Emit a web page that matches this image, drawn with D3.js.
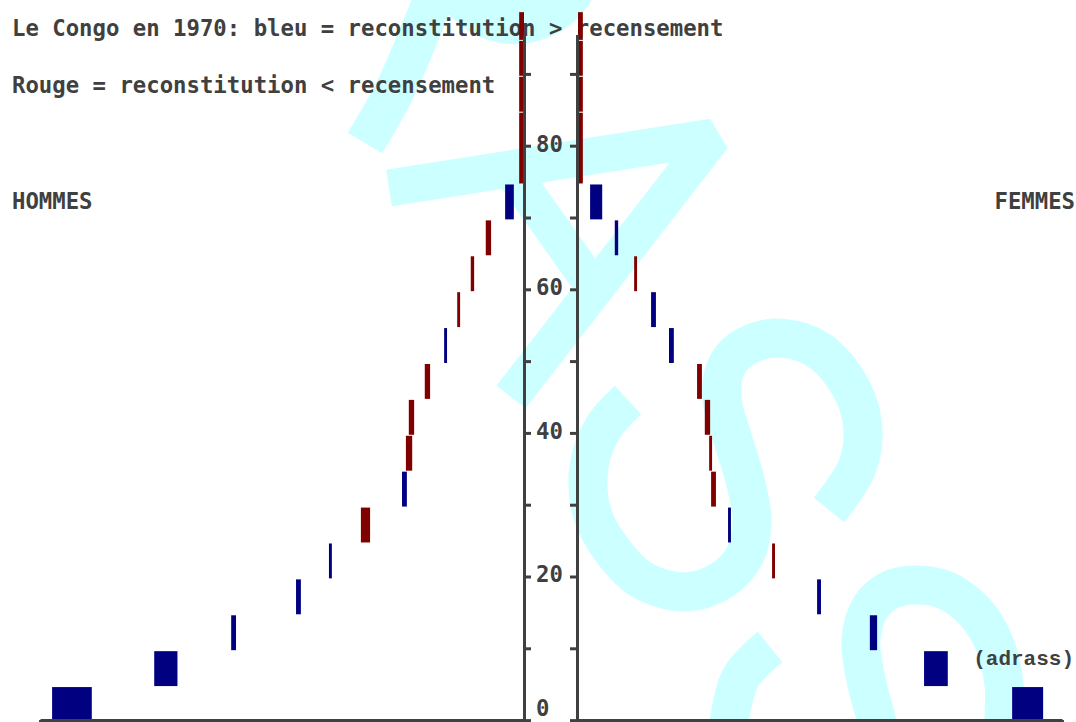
<!DOCTYPE html>
<html>
<head>
<meta charset="utf-8">
<script src="https://cdn.jsdelivr.net/npm/d3@7"></script>
<style>
  body { margin: 0; background: #fff; }
  svg { display: block; }
  text { font-family: "DejaVu Sans Mono", monospace; font-weight: bold; fill: #404040; }
</style>
</head>
<body>
<div id="chart"></div>
<script>
// age groups (start / end of each group, years)
var ageStart = [0, 5, 10, 15, 20, 25, 30, 35, 40, 45, 50, 55, 60, 65, 70, 75, 85, 90, 95];
var ageEnd   = [5, 10, 15, 20, 25, 30, 35, 40, 45, 50, 55, 60, 65, 70, 75, 85, 90, 95, 99];

// population in thousands
var menRecon    = [97.5, 76.4, 60.5, 47.1, 40.3, 31.8, 25.2, 23.1, 22.7, 19.4, 16.5, 13.2, 10.3, 6.8, 3.9, 0, 0, 0, 0];
var menCensus   = [89.3, 71.6, 59.5, 46.1, 39.7, 33.7, 24.2, 24.4, 23.8, 20.5, 15.9, 13.8, 11.0, 7.9, 2.1, 1.0, 1.0, 1.0, 1.0];
var womenRecon  = [96.1, 76.4, 61.8, 50.2, 40.1, 31.6, 27.5, 27.1, 26.2, 24.6, 19.8, 16.1, 11.6, 8.3, 5.0, 0, 0, 0, 0];
var womenCensus = [89.7, 71.5, 60.3, 49.4, 40.7, 31.0, 28.5, 27.7, 27.3, 25.6, 18.8, 15.1, 12.2, 7.6, 2.5, 1.0, 1.0, 1.0, 1.0];

var ageTicks = [0, 10, 20, 30, 40, 50, 60, 70, 80, 90];
var ageLabels = [0, 20, 40, 60, 80];
var popTicks = [0, 25, 50, 75, 100];

var W = 1076, H = 722;
var ink = "#404040", blue = "#000080", red = "#800000", wmColor = "#ccffff";

var svg = d3.select("#chart").append("svg")
  .attr("width", W)
  .attr("height", H);

svg.append("rect").attr("width", W).attr("height", H).attr("fill", "#fff");

// scales
var y = d3.scaleLinear().domain([0, 100]).range([720.1, 2.1]);
var yAx = y.copy().domain([0, 95.5]).range([y(0), y(95.5)]);
var xL = d3.scaleLinear().domain([0, 100]).range([524, 40]);
var xR = d3.scaleLinear().domain([0, 100]).range([578, 1062]);

// watermark logo (decoration)
var wm = svg.append("g")
  .attr("fill", "none")
  .attr("stroke", wmColor)
  .attr("stroke-width", 39);

var smooth = d3.line().curve(d3.curveCatmullRom.alpha(0.5));
var straight = d3.line();

wm.append("circle").attr("cx", 515).attr("cy", -45).attr("r", 67).attr("stroke-width", 44);
wm.append("path").attr("d", smooth([[365, 143], [395, 90], [425, 20], [448, -40]])).attr("stroke-width", 40);
wm.append("path").attr("d", straight([[389, 188], [713, 137], [511, 397]]))
  .attr("stroke-width", 37).attr("stroke-linejoin", "bevel");
wm.append("path").attr("d", straight([[512, 172], [597, 292]])).attr("stroke-width", 36);
wm.append("path").attr("d", smooth([
  [628, 400], [603, 428], [589, 467], [592, 513], [612, 550], [642, 580], [685, 592],
  [722, 580], [745, 555], [752, 520], [745, 480], [733, 440], [722, 400], [725, 370],
  [740, 350], [775, 338], [815, 348], [845, 378], [862, 420], [858, 465], [829, 510]
]));
wm.append("path").attr("d", smooth([
  [880, 740], [877, 722], [866, 680], [861, 640], [870, 608], [890, 590], [915, 585],
  [945, 590], [975, 612], [995, 645], [1004, 685], [1004, 722], [1004, 740]
]));
wm.append("path").attr("d", smooth([[770, 647], [741, 677], [729, 722], [726, 745]]));

// texts
function label(x, yy, s, anchor) {
  return svg.append("text")
    .attr("x", x).attr("y", yy)
    .attr("text-anchor", anchor || "start")
    .style("font-size", "22.3px")
    .text(s);
}
label(12, 36, "Le Congo en 1970: bleu = reconstitution > recensement");
label(12, 93, "Rouge = reconstitution < recensement");
label(12, 209, "HOMMES");
label(1075, 209, "FEMMES", "end");
svg.append("text")
  .attr("x", 1074).attr("y", 665)
  .attr("text-anchor", "end")
  .style("font-family", "'Liberation Mono', monospace")
  .style("font-size", "21px")
  .text("(adrass)");

// bars: span between reconstitution and census
var rows = ageStart.map(function(a, i) {
  return {
    lo: Math.max(0, a - 0.4), hi: ageEnd[i] - 0.4,
    m: [menRecon[i], menCensus[i]], f: [womenRecon[i], womenCensus[i]]
  };
});

function color(v) { return v[0] > v[1] ? blue : red; }

var bars = svg.append("g");
bars.selectAll(".men").data(rows).enter().append("rect")
  .attr("class", "men")
  .attr("x", function(d) { return xL(d3.max(d.m)); })
  .attr("width", function(d) { return xL(d3.min(d.m)) - xL(d3.max(d.m)); })
  .attr("y", function(d) { return y(d.hi); })
  .attr("height", function(d) { return y(d.lo) - y(d.hi) - 1; })
  .attr("fill", function(d) { return color(d.m); });

bars.selectAll(".women").data(rows).enter().append("rect")
  .attr("class", "women")
  .attr("x", function(d) { return xR(d3.min(d.f)); })
  .attr("width", function(d) { return xR(d3.max(d.f)) - xR(d3.min(d.f)); })
  .attr("y", function(d) { return y(d.hi); })
  .attr("height", function(d) { return y(d.lo) - y(d.hi) - 1; })
  .attr("fill", function(d) { return color(d.f); });

// axes
function styleAxis(g) {
  g.attr("color", ink).attr("font-family", null).attr("font-size", null);
  g.select(".domain").attr("stroke-width", 3);
  g.selectAll(".tick line").attr("stroke-width", 3);
  g.selectAll(".tick text").style("font-size", "22.3px").attr("dy", "0.24em");
}

var leftAxis = svg.append("g")
  .attr("transform", "translate(524,0)")
  .call(d3.axisRight(yAx).tickValues(ageTicks).tickSize(7).tickSizeOuter(0).tickPadding(5)
    .tickFormat(function(d) { return ageLabels.indexOf(d) >= 0 ? d : ""; }))
  .call(styleAxis);
// keep the bottom "0" inside the picture
leftAxis.selectAll(".tick text").filter(function(d) { return d === 0; }).attr("dy", "-0.2em");

svg.append("g")
  .attr("transform", "translate(577,0)")
  .call(d3.axisLeft(yAx).tickValues(ageTicks).tickSize(7).tickSizeOuter(0).tickFormat(""))
  .call(styleAxis);

svg.append("g")
  .attr("transform", "translate(0," + y(0) + ")")
  .call(d3.axisBottom(xL).tickValues(popTicks).tickSize(6).tickSizeOuter(0).tickFormat(""))
  .call(styleAxis);

svg.append("g")
  .attr("transform", "translate(0," + y(0) + ")")
  .call(d3.axisBottom(xR).tickValues(popTicks).tickSize(6).tickSizeOuter(0).tickFormat(""))
  .call(styleAxis);
</script>
</body>
</html>
